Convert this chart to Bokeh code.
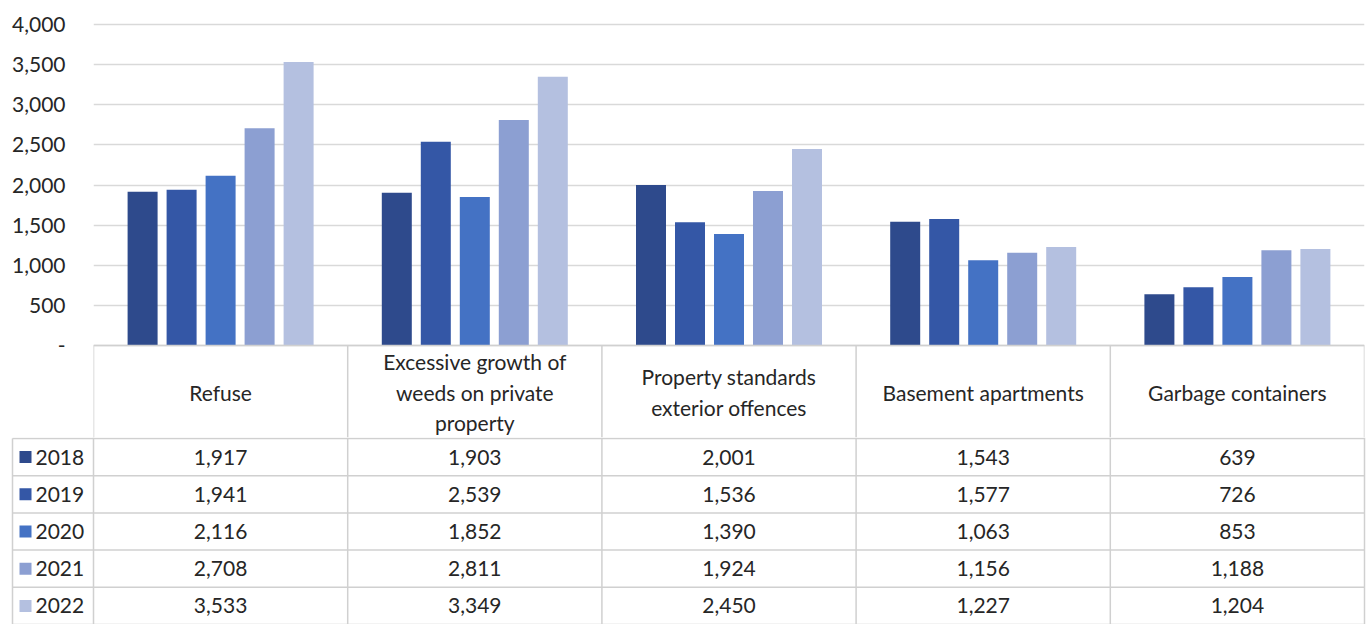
from bokeh.plotting import figure
from bokeh.models import Range1d, FixedTicker, NumeralTickFormatter
from bokeh.layouts import column
from bokeh.core.properties import value
from bokeh.embed import file_html
from bokeh.resources import INLINE

# ---- data ----
years = ["2018", "2019", "2020", "2021", "2022"]
categories = ["Refuse", "Excessive growth of weeds on private property",
              "Property standards exterior offences", "Basement apartments",
              "Garbage containers"]
header_labels = ["Refuse", "Excessive growth of\nweeds on private\nproperty",
                 "Property standards\nexterior offences", "Basement apartments",
                 "Garbage containers"]
v2018 = [1917, 1903, 2001, 1543, 639]
v2019 = [1941, 2539, 1536, 1577, 726]
v2020 = [2116, 1852, 1390, 1063, 853]
v2021 = [2708, 2811, 1924, 1156, 1188]
v2022 = [3533, 3349, 2450, 1227, 1204]
series = [v2018, v2019, v2020, v2021, v2022]
colors = ["#2E4A8C", "#3457A6", "#4472C4", "#8C9FD2", "#B4C0E0"]
y_ticks = [0, 500, 1000, 1500, 2000, 2500, 3000, 3500, 4000]

# ---- layout constants ----
FONT = "Lato"
FS = "21px"
TXT = "#262626"
LC = "#D0D0D0"
W = 1368
LEFT, RIGHT = 93, 1364
ZERO_PX, FRAME_TOP, GRID_TOP_PX = 345, 14, 24
HEADER_H, ROW_H = 93, 37.2
TABLE_H = 279
EXT = HEADER_H - 1              # header row drawn inside the top figure
TOP_H = ZERO_PX + EXT
col_w = (RIGHT - LEFT) / 5
BAR_W, BAR_STEP = 30 / col_w, 39 / col_w
n = len(categories)

upp = 4000 / (ZERO_PX - GRID_TOP_PX)   # data units per pixel
top = figure(width=W, height=TOP_H, x_range=Range1d(0, n),
             y_range=Range1d(-EXT * upp, (ZERO_PX - FRAME_TOP) * upp),
             output_backend="svg", toolbar_location=None, x_axis_location=None,
             min_border_left=LEFT, min_border_right=W - RIGHT,
             min_border_top=FRAME_TOP, min_border_bottom=0, frame_align=False)
top.outline_line_color = None
top.xgrid.visible = False
top.ygrid.grid_line_color = "#D9D9D9"
top.ygrid.grid_line_width = 1.5
top.ygrid.ticker = FixedTicker(ticks=y_ticks)
ax = top.yaxis[0]
ax.ticker = FixedTicker(ticks=y_ticks)
ax.formatter = NumeralTickFormatter(format="0,0")
ax.major_label_overrides = {0: "-"}
ax.axis_line_color = None
ax.major_tick_line_color = None
ax.minor_tick_line_color = None
ax.major_tick_out = 0
ax.major_tick_in = 0
ax.major_label_standoff = 28
ax.major_label_text_font = FONT
ax.major_label_text_font_size = FS
ax.major_label_text_color = TXT

for i, (vals, c) in enumerate(zip(series, colors)):
    xs = [j + 0.5 + (i - 2) * BAR_STEP for j in range(n)]
    top.vbar(x=xs, top=vals, width=BAR_W, bottom=0, fill_color=c, line_color=None)

# header row of the table (inside the top figure, below zero)
top.segment(x0=[0], y0=[0], x1=[n], y1=[0], line_color=LC, line_width=1.5)
top.segment(x0=list(range(n + 1)), y0=[0] * (n + 1), x1=list(range(n + 1)),
            y1=[-EXT * upp] * (n + 1), line_color=LC, line_width=1.5)
top.text(x=[j + 0.5 for j in range(n)], y=[-(HEADER_H / 2) * upp] * n, text=header_labels,
         text_align="center", text_baseline="middle", text_font=value(FONT),
         text_font_size=FS, text_color=TXT, text_line_height=1.23)

# ---- data rows (table px coordinates, 0 = table top) ----
x0 = -LEFT / col_w
bot = figure(width=W, height=TABLE_H - EXT, x_range=Range1d(x0, (W - LEFT) / col_w),
             y_range=Range1d(TABLE_H, EXT), output_backend="svg", toolbar_location=None,
             x_axis_location=None, y_axis_location=None, min_border=0, frame_align=False)
bot.outline_line_color = None
bot.xgrid.visible = False
bot.ygrid.visible = False

xl = (12 - LEFT) / col_w
row_lines = [HEADER_H + r * ROW_H for r in range(len(years) + 1)]
bot.segment(x0=[xl] * len(row_lines), y0=row_lines, x1=[n] * len(row_lines),
            y1=row_lines, line_color=LC, line_width=1.5)
bot.segment(x0=list(range(n + 1)), y0=[EXT] * (n + 1), x1=list(range(n + 1)),
            y1=[TABLE_H] * (n + 1), line_color=LC, line_width=1.5)
bot.segment(x0=[xl], y0=[HEADER_H], x1=[xl], y1=[TABLE_H], line_color=LC, line_width=1.5)

for r, (yr, vals, c) in enumerate(zip(years, series, colors)):
    yc = HEADER_H + (r + 0.5) * ROW_H
    bot.text(x=[j + 0.5 for j in range(n)], y=[yc] * n, text=[f"{v:,}" for v in vals],
             text_align="center", text_baseline="middle", text_font=value(FONT),
             text_font_size=FS, text_color=TXT)
    bot.scatter(x=[(25 - LEFT) / col_w], y=[yc], marker="square", size=12,
                fill_color=c, line_color=None)
    bot.text(x=[(35 - LEFT) / col_w], y=[yc], text=[yr], text_align="left",
             text_baseline="middle", text_font=value(FONT), text_font_size=FS,
             text_color=TXT)

layout = column(top, bot, spacing=0)
open("out.html", "w").write(file_html(layout, INLINE))
